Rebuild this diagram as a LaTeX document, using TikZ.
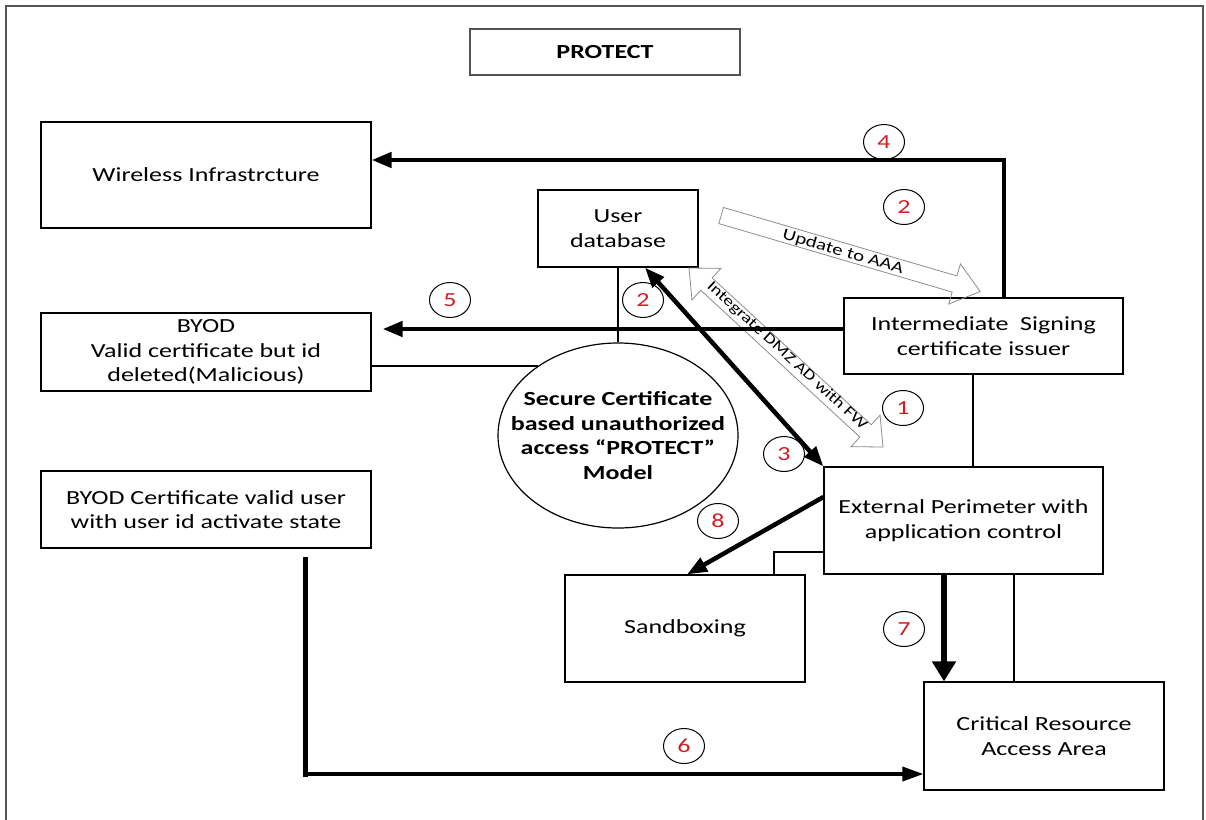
\documentclass[tikz,border=0pt]{standalone}
\usepackage{fontspec}
\setmainfont{Carlito}[FakeStretch=1.3]
\usetikzlibrary{arrows.meta,shapes.geometric,shapes.arrows,calc}
\definecolor{numred}{RGB}{205,30,35}
\definecolor{framegray}{RGB}{85,85,85}
\definecolor{hollowgray}{RGB}{140,140,140}
\begin{document}
\begin{tikzpicture}[x=1pt,y=-1pt,
  box/.style={draw=black, line width=1.2pt, align=center, inner sep=0pt,
    font=\fontsize{20}{24.5}\selectfont},
  num/.style={draw=black, ellipse, minimum width=41pt, minimum height=35pt,
    inner sep=0pt, line width=1pt, text=numred, font=\fontsize{20}{24}\selectfont},
  thk/.style={line width=4.5pt, -{Triangle[length=20pt,width=15pt]}},
  thin/.style={line width=1.2pt},
  hollow/.style={draw=hollowgray, line width=0.8pt, inner sep=8pt},
  arrowtext/.style={font=\fontsize{16}{18}\selectfont, inner sep=0pt}
]
\useasboundingbox (0,0) rectangle (1206,819);
\clip (0,0) rectangle (1206,819);
\draw[framegray, line width=1.5pt] (6,840) -- (6,6) -- (1203,6) -- (1203,840);

% boxes
\node[box, draw=framegray, line width=1.5pt, minimum width=270pt, minimum height=46pt,
  font=\bfseries\fontsize{20}{24}\selectfont] (protect) at (605,52) {PROTECT};
\node[box, minimum width=330pt, minimum height=106pt] (wire) at (206,175) {Wireless Infrastrcture};
\node[box, minimum width=160pt, minimum height=77pt] (udb) at (618,228.5) {User\\database};
\node[box, minimum width=330pt, minimum height=78pt] (byod1) at (206,352) {BYOD\\Valid certificate but id\\deleted(Malicious)};
\node[box, minimum width=279pt, minimum height=76pt] (inter) at (983.5,336) {Intermediate\ \ Signing\\certificate issuer};
\node[box, minimum width=279pt, minimum height=107pt] (ext) at (963.5,520.5) {External Perimeter with\\application control};
\node[box, minimum width=240pt, minimum height=107pt] (sand) at (685,628.5) {Sandboxing};
\node[box, minimum width=240pt, minimum height=108pt] (crit) at (1044,736) {Critical Resource\\Access Area};
\node[box, minimum width=330pt, minimum height=77pt] (byod2) at (206,509.5) {BYOD Certificate valid user\\with user id activate state};
\node[draw=black, line width=1.2pt, ellipse, minimum width=240pt, minimum height=185pt, inner sep=0pt] (circ) at (618,435.5) {};
\node[align=center, inner sep=0pt, font=\bfseries\fontsize{20}{24.5}\selectfont] (circtext) at (circ.center)
  {Secure Certificate\\based unauthorized\\access “PROTECT”\\Model};

% hollow arrows
\node[hollow, single arrow, minimum height=270pt, single arrow head extend=12.5pt,
  single arrow tip angle=76, rotate=-16.35] (upd) at (845.5,252) {};
\node[arrowtext, rotate=-16.35] (updtext) at (843,252) {Update to AAA};
\node[hollow, double arrow, minimum height=264pt, double arrow head extend=13pt,
  double arrow tip angle=84, rotate=-42.7] (integ) at (786,357.5) {};
\node[arrowtext, font=\fontsize{15}{18}\selectfont, rotate=-42.7] (integtext) at (787,356) {Integrate DMZ AD with FW};

% thin connectors
\draw[thin] (udb.south) -- (circ.north);
\draw[thin] (byod1.east |- circ.139.64) -- (circ.139.64);
\coordinate (l3) at ([xshift=-10.5pt]inter.south);
\draw[thin] (l3) -- (l3 |- ext.north);
\coordinate (l4) at ([yshift=-31.5pt]ext.west);
\draw[thin] (l4) -| ([xshift=89pt]sand.north);
\coordinate (l5) at ([xshift=50.5pt]ext.south);
\draw[thin] (l5) -- (l5 |- crit.north);

% thick connectors
\draw[thk, line join=miter] ([xshift=20.5pt]inter.north) |- ([yshift=15pt]wire.east);
\coordinate (a5) at ([yshift=7pt]inter.west);
\draw[thk, shorten >=11pt] (a5) -- (a5 -| byod1.east);
\draw[line width=4.5pt, {Triangle[length=20pt,width=15pt]}-{Triangle[length=20pt,width=15pt]}]
  ([xshift=27pt]udb.south) -- (ext.north west);
\draw[thk] ([yshift=23.5pt]ext.west) -- ([xshift=2pt]sand.north);
\coordinate (a7) at ([xshift=-19.5pt]ext.south);
\draw[line width=6pt, -{Triangle[length=20pt,width=23pt]}] (a7) -- (a7 |- crit.north);
\coordinate (c6s) at ([xshift=99pt,yshift=-11pt]byod2.south);
\coordinate (c6e) at ([yshift=-38pt]crit.west);
\draw[line width=5pt, line cap=rect] (c6s) -- (c6s |- c6e);
\draw[line width=3.5pt, -{Triangle[length=21pt,width=14pt]}] (c6s |- c6e) -- (c6e);

% step numbers
\node[num] (n4) at (884,142) {4};
\node[num] (n2a) at (904,207) {2};
\node[num] (n2b) at (643,300) {2};
\node[num] (n1) at (903,408) {1};
\node[num] (n3) at (784,454) {3};
\node[num] (n5) at (450,300) {5};
\node[num] (n8) at (718,521) {8};
\node[num] (n7) at (904,629) {7};
\node[num] (n6) at (684,746) {6};
\end{tikzpicture}
\end{document}
